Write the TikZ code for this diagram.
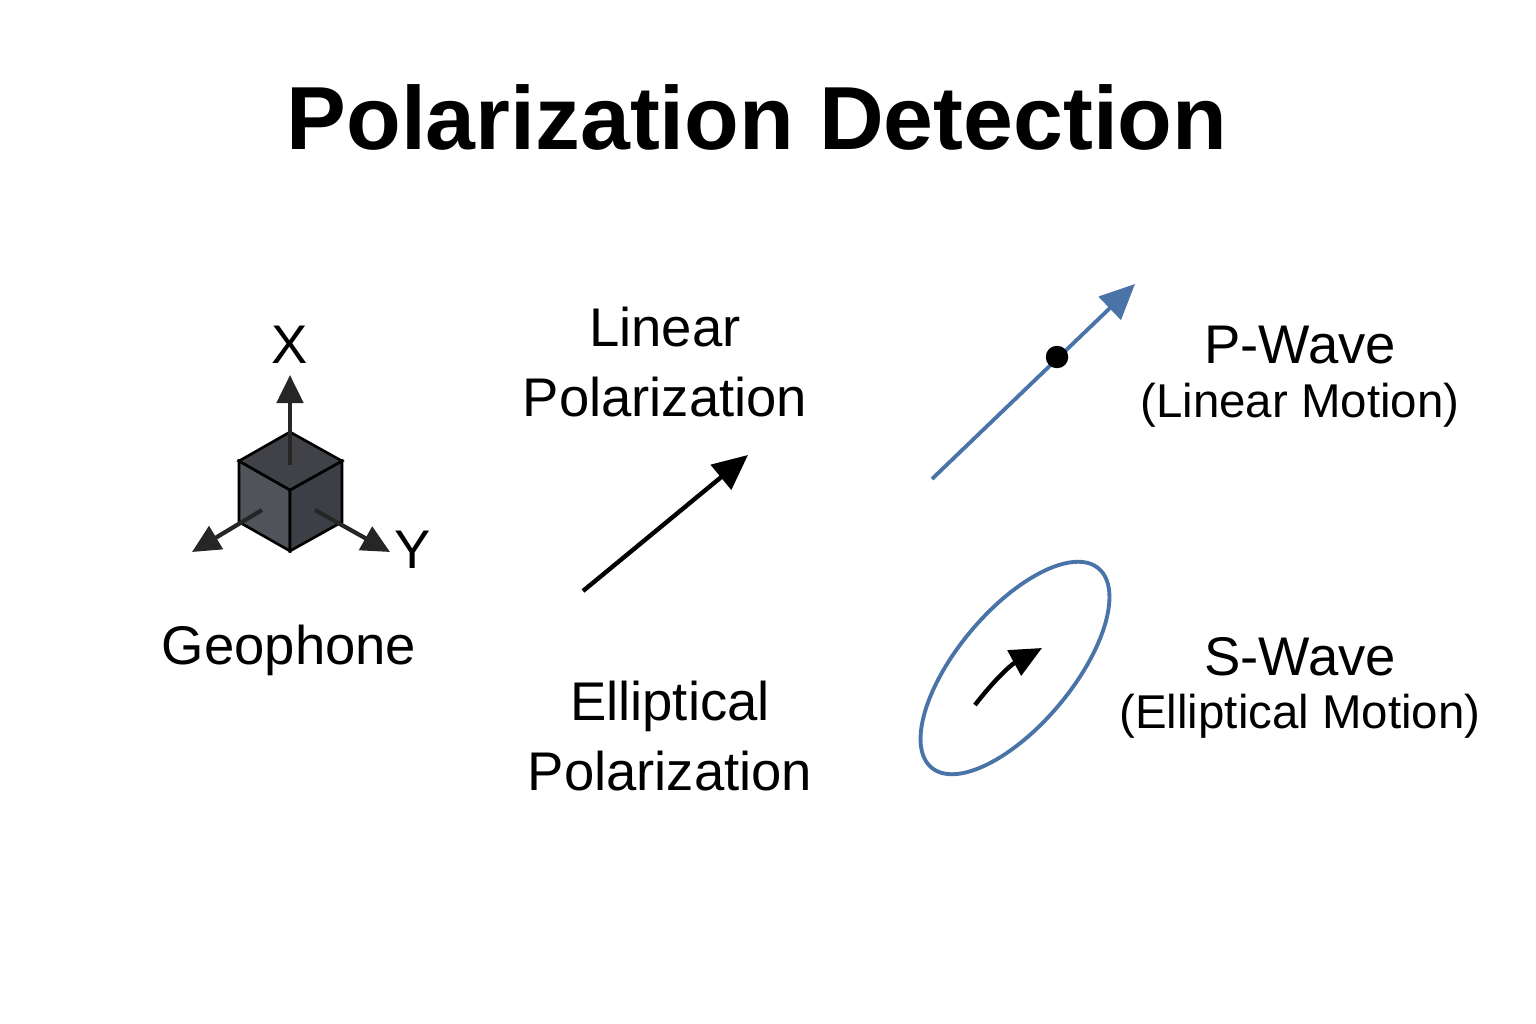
\documentclass[tikz,border=0pt]{standalone}
\usepackage{fontspec}
\setmainfont{Liberation Sans}
\usetikzlibrary{arrows.meta,shapes.geometric}
\definecolor{wave}{HTML}{4A74A8}
\definecolor{cubeL}{HTML}{50535A}
\definecolor{cubeR}{HTML}{3C3F45}
\begin{document}
\begin{tikzpicture}[x=0.02cm,y=-0.02cm,
  lbl/.style={font=\fontsize{31}{36}\selectfont,align=center},
  sub/.style={font=\fontsize{27}{32}\selectfont,align=center},
  axis/.style={line width=2.4pt,-{Triangle[length=16pt,width=15pt]},black!85}]
\useasboundingbox (0,0) rectangle (1536,1024);
\node (title) at (757,117) {\fontsize{51}{60}\selectfont\bfseries Polarization Detection};
% Geophone cube
\coordinate (t) at (290,432); \coordinate (ul) at (239,461); \coordinate (ur) at (342,461);
\coordinate (c) at (290,490); \coordinate (b) at (290,551);
\coordinate (ll) at (239,522); \coordinate (lr) at (342,522);
\draw[line width=1.5pt,fill=cubeL] (ul) -- (c) -- (b) -- (ll) -- cycle;
\draw[line width=1.5pt,fill=cubeR] (ur) -- (c) -- (b) -- (lr) -- cycle;
\draw[line width=1.5pt,fill=cubeL!80!black] (t) -- (ur) -- (c) -- (ul) -- cycle;
\coordinate (xo) at (290,465); \coordinate (xe) at (290,375);
\coordinate (lo) at (262,510); \coordinate (le) at (192,552);
\coordinate (ro) at (315,510); \coordinate (re) at (390,552);
\draw[axis] (xo) -- (xe);
\draw[axis] (lo) -- (le);
\draw[axis] (ro) -- (re);
\node[lbl] (X) at (290,345) {X};
\node[lbl] (Y) at (413,550) {Y};
\node[lbl] (geo) at (289,650) {Geophone};
% Polarization labels
\node[lbl] (lin) at (665,362) {Linear\\[4pt]Polarization};
\node[lbl] (ell) at (670,736) {Elliptical\\[4pt]Polarization};
\coordinate (la) at (583,591); \coordinate (lb) at (748,455);
\draw[line width=2.5pt,-{Triangle[length=20pt,width=18pt]}] (la) -- (lb);
% P-wave
\coordinate (pa) at (932,479); \coordinate (pb) at (1135,284);
\draw[wave,line width=2.2pt,-{Triangle[length=20pt,width=18pt]}] (pa) -- (pb);
\node[circle,fill=black,inner sep=0pt,minimum size=0.45cm] (dot) at (1057,357) {};
\node[lbl] (pw) at (1300,345) {P-Wave};
\node[sub] (pm) at (1300,405) {(Linear Motion)};
% S-wave
\node[draw=wave,line width=2.2pt,ellipse,rotate=-40,minimum width=2.3cm,minimum height=5.2cm,inner sep=0pt] (ellip) at (1015,668) {};
\coordinate (sa) at (975,705); \coordinate (sb) at (1042,648);
\draw[line width=2.5pt,-{Triangle[length=18pt,width=16pt]}] (sa) to[bend left=12] (sb);
\node[lbl] (sw) at (1300,657) {S-Wave};
\node[sub] (sm) at (1300,716) {(Elliptical Motion)};
\end{tikzpicture}
\end{document}
